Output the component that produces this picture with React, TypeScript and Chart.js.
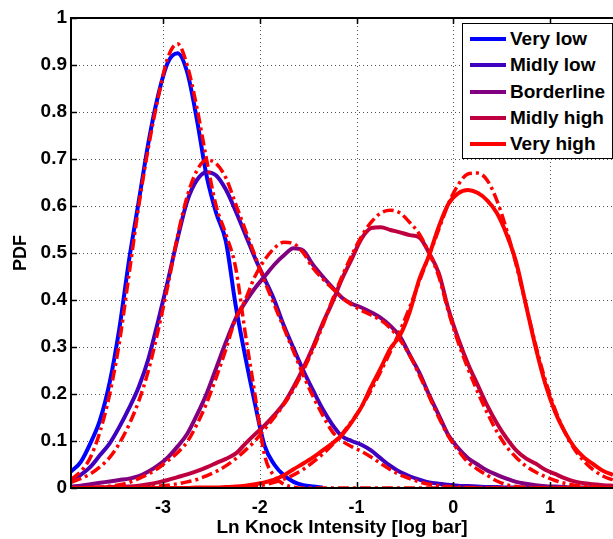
import { useEffect, useRef } from "react";
import { Chart, registerables } from "chart.js";

Chart.register(...registerables);

const FONT = '"Liberation Sans", Arial, Helvetica, sans-serif';

// x grid (Ln Knock Intensity [log bar])
const X_VALUES = [
  -3.95, -3.85, -3.75, -3.65, -3.55, -3.45, -3.35, -3.25, -3.15, -3.05,
  -2.95, -2.85, -2.75, -2.65, -2.55, -2.45, -2.35, -2.25, -2.15, -2.05,
  -1.95, -1.85, -1.75, -1.65, -1.55, -1.45, -1.35, -1.25, -1.15, -1.05,
  -0.95, -0.85, -0.75, -0.65, -0.55, -0.45, -0.35, -0.25, -0.15, -0.05,
  0.05, 0.15, 0.25, 0.35, 0.45, 0.55, 0.65, 0.75, 0.85, 0.95,
  1.05, 1.15, 1.25, 1.35, 1.45, 1.55, 1.65,
];
const X_TICKS = [-3, -2, -1, 0, 1];

const SERIES_NAMES = ["Very low", "Midly low", "Borderline", "Midly high", "Very high"];
const SERIES_COLORS = ["#0000ff", "#4000bf", "#800080", "#bf0040", "#ff0000"];
const FIT_COLOR = "#ff0000";

// Solid curves (estimated PDFs)
const VERY_LOW = [
  0.035, 0.055, 0.095, 0.145, 0.225, 0.34, 0.485, 0.61, 0.735, 0.835,
  0.905, 0.925, 0.885, 0.785, 0.665, 0.585, 0.525, 0.39, 0.28, 0.18,
  0.09, 0.05, 0.027, 0.013, 0.006, 0.003, 0.001,
];
const MIDLY_LOW = [
  0.015, 0.028, 0.045, 0.07, 0.095, 0.13, 0.17, 0.215, 0.275, 0.355,
  0.44, 0.53, 0.61, 0.655, 0.672, 0.665, 0.635, 0.59, 0.54, 0.49,
  0.445, 0.4, 0.345, 0.297, 0.25, 0.208, 0.168, 0.135, 0.11, 0.1,
  0.092, 0.08, 0.063, 0.047, 0.034, 0.025, 0.018, 0.012, 0.009, 0.007,
  0.005, 0.004, 0.003, 0.002, 0.002, 0.001, 0.001, 0.001, 0.001, 0.001,
  0, 0, 0, 0, 0, 0, 0,
];
const BORDERLINE = [
  0.003, 0.005, 0.008, 0.011, 0.014, 0.017, 0.02, 0.025, 0.035, 0.048,
  0.065, 0.088, 0.115, 0.155, 0.2, 0.255, 0.31, 0.36, 0.395, 0.425,
  0.45, 0.475, 0.495, 0.51, 0.505, 0.475, 0.45, 0.427, 0.405, 0.392,
  0.384, 0.374, 0.362, 0.345, 0.322, 0.283, 0.245, 0.198, 0.155, 0.112,
  0.085, 0.064, 0.05, 0.037, 0.028, 0.02, 0.013, 0.009, 0.006, 0.004,
  0.003, 0.002, 0.001, 0.001, 0, 0, 0,
];
const MIDLY_HIGH = [
  0, 0, 0.001, 0.001, 0.002, 0.002, 0.003, 0.005, 0.008, 0.012,
  0.017, 0.023, 0.029, 0.036, 0.044, 0.053, 0.062, 0.073, 0.094, 0.114,
  0.133, 0.155, 0.18, 0.215, 0.255, 0.3, 0.35, 0.395, 0.445, 0.487,
  0.53, 0.553, 0.555, 0.549, 0.544, 0.538, 0.533, 0.5, 0.457, 0.38,
  0.318, 0.265, 0.22, 0.176, 0.138, 0.106, 0.08, 0.063, 0.052, 0.039,
  0.03, 0.021, 0.014, 0.01, 0.008, 0.006, 0.005,
];
const VERY_HIGH = [
  0, 0, 0, 0, 0, 0, 0, 0, 0, 0,
  0, 0, 0, 0.001, 0.001, 0.001, 0.002, 0.003, 0.005, 0.008,
  0.012, 0.018, 0.027, 0.04, 0.052, 0.065, 0.08, 0.095, 0.113, 0.14,
  0.172, 0.215, 0.255, 0.297, 0.325, 0.375, 0.445, 0.495, 0.556, 0.605,
  0.627, 0.634, 0.628, 0.612, 0.585, 0.54, 0.48, 0.39, 0.3, 0.222,
  0.163, 0.12, 0.087, 0.065, 0.05, 0.036, 0.028,
];

// Dash-dot fitted curves
const FIT_VERY_LOW = [
  0.018, 0.035, 0.065, 0.12, 0.2, 0.31, 0.455, 0.6, 0.725, 0.83,
  0.915, 0.945, 0.9, 0.81, 0.7, 0.6, 0.54, 0.47, 0.33, 0.2,
  0.07, 0.025, 0.008, 0.002, 0, 0, 0, 0, 0, 0,
  0, 0, 0, 0, 0, 0, 0, 0, 0, 0,
  0, 0, 0, 0, 0, 0, 0, 0, 0, 0,
  0, 0, 0, 0, 0, 0, 0,
];
const FIT_MIDLY_LOW = [
  0.012, 0.02, 0.03, 0.045, 0.065, 0.095, 0.135, 0.185, 0.25, 0.335,
  0.43, 0.535, 0.62, 0.675, 0.698, 0.69, 0.66, 0.605, 0.55, 0.495,
  0.44, 0.39, 0.34, 0.29, 0.24, 0.195, 0.155, 0.12, 0.1, 0.088,
  0.078, 0.066, 0.052, 0.039, 0.028, 0.02, 0.013, 0.008, 0.005, 0.003,
  0.002, 0.001, 0, 0, 0, 0, 0, 0, 0, 0,
  0, 0, 0, 0, 0, 0, 0,
];
const FIT_BORDERLINE = [
  0, 0, 0.001, 0.002, 0.004, 0.007, 0.012, 0.02, 0.03, 0.042,
  0.058, 0.075, 0.098, 0.135, 0.18, 0.235, 0.295, 0.36, 0.4, 0.45,
  0.485, 0.51, 0.523, 0.52, 0.5, 0.468, 0.445, 0.425, 0.405, 0.39,
  0.378, 0.368, 0.357, 0.34, 0.315, 0.282, 0.24, 0.195, 0.15, 0.11,
  0.08, 0.055, 0.04, 0.027, 0.015, 0.007, 0.003, 0.001, 0, 0,
  0, 0, 0, 0, 0, 0, 0,
];
const FIT_MIDLY_HIGH = [
  0, 0, 0, 0, 0, 0, 0, 0.001, 0.002, 0.004,
  0.006, 0.009, 0.013, 0.018, 0.026, 0.035, 0.047, 0.062, 0.08, 0.1,
  0.125, 0.15, 0.178, 0.21, 0.25, 0.295, 0.345, 0.4, 0.45, 0.495,
  0.535, 0.565, 0.585, 0.591, 0.585, 0.565, 0.54, 0.5, 0.45, 0.375,
  0.31, 0.255, 0.205, 0.16, 0.12, 0.088, 0.065, 0.047, 0.034, 0.024,
  0.016, 0.01, 0.006, 0.004, 0.002, 0.001, 0.001,
];
const FIT_VERY_HIGH = [
  0, 0, 0, 0, 0, 0, 0, 0, 0, 0,
  0, 0, 0, 0, 0, 0, 0, 0.001, 0.002, 0.004,
  0.007, 0.012, 0.019, 0.028, 0.04, 0.055, 0.072, 0.092, 0.115, 0.142,
  0.172, 0.208, 0.248, 0.29, 0.335, 0.385, 0.44, 0.495, 0.55, 0.605,
  0.645, 0.668, 0.67, 0.655, 0.612, 0.55, 0.475, 0.39, 0.305, 0.23,
  0.168, 0.12, 0.083, 0.057, 0.038, 0.025, 0.017,
];

const SOLIDS = [VERY_LOW, MIDLY_LOW, BORDERLINE, MIDLY_HIGH, VERY_HIGH];
const FITS = [FIT_VERY_LOW, FIT_MIDLY_LOW, FIT_BORDERLINE, FIT_MIDLY_HIGH, FIT_VERY_HIGH];

function toPoints(ys: number[]) {
  return X_VALUES.map((x, i) => ({ x, y: i < ys.length ? ys[i] : null }));
}

const framePlugin = {
  id: "matlabFrame",
  beforeDatasetsDraw(chart: any) {
    const { ctx, chartArea: a, scales } = chart;
    const xs = scales.x;
    const ys = scales.y;
    ctx.save();
    ctx.strokeStyle = "#555";
    ctx.lineWidth = 1;
    ctx.setLineDash([1, 3]);
    X_TICKS.forEach((v) => {
      const px = Math.round(xs.getPixelForValue(v)) + 0.5;
      ctx.beginPath();
      ctx.moveTo(px, a.top);
      ctx.lineTo(px, a.bottom);
      ctx.stroke();
    });
    ys.ticks.forEach((t: any) => {
      if (t.value <= 0 || t.value >= 1) return;
      const py = Math.round(ys.getPixelForValue(t.value)) + 0.5;
      ctx.beginPath();
      ctx.moveTo(a.left, py);
      ctx.lineTo(a.right, py);
      ctx.stroke();
    });
    ctx.restore();
  },
  afterDatasetsDraw(chart: any) {
    const { ctx, chartArea: a, scales } = chart;
    const xs = scales.x;
    const ys = scales.y;
    ctx.save();
    ctx.strokeStyle = "#000";
    ctx.lineWidth = 2;
    ctx.setLineDash([]);
    ctx.beginPath();
    ctx.moveTo(a.right, a.top);
    ctx.lineTo(a.left, a.top);
    ctx.lineTo(a.left, a.bottom);
    ctx.lineTo(a.right, a.bottom);
    ctx.stroke();
    ctx.lineWidth = 1.5;
    X_TICKS.forEach((v) => {
      const px = Math.round(xs.getPixelForValue(v)) + 0.5;
      ctx.beginPath();
      ctx.moveTo(px, a.bottom);
      ctx.lineTo(px, a.bottom - 6);
      ctx.moveTo(px, a.top);
      ctx.lineTo(px, a.top + 6);
      ctx.stroke();
    });
    ys.ticks.forEach((t: any) => {
      const py = Math.round(ys.getPixelForValue(t.value)) + 0.5;
      ctx.beginPath();
      ctx.moveTo(a.left, py);
      ctx.lineTo(a.left + 6, py);
      ctx.stroke();
    });
    ctx.restore();
  },
};

export default function App() {
  const canvasRef = useRef<HTMLCanvasElement | null>(null);

  useEffect(() => {
    if (!canvasRef.current) return;
    const solidDatasets = SOLIDS.map((ys, i) => ({
      label: SERIES_NAMES[i],
      data: toPoints(ys),
      borderColor: SERIES_COLORS[i],
      backgroundColor: SERIES_COLORS[i],
      borderWidth: 4,
      pointRadius: 0,
      fill: false,
      cubicInterpolationMode: "monotone" as const,
      order: 5 - i,
    }));
    const fitDatasets = FITS.map((ys, i) => ({
      label: SERIES_NAMES[i] + " fit",
      data: toPoints(ys),
      borderColor: FIT_COLOR,
      backgroundColor: FIT_COLOR,
      borderWidth: 3.5,
      borderDash: [11, 4, 3, 4],
      pointRadius: 0,
      fill: false,
      cubicInterpolationMode: "monotone" as const,
      order: 0,
    }));

    const chart = new Chart(canvasRef.current, {
      type: "line",
      data: { datasets: [...fitDatasets, ...solidDatasets] as any },
      options: {
        responsive: false,
        animation: false,
        layout: { padding: { top: 18, right: 0, bottom: 0, left: 0 } },
        plugins: {
          legend: { display: false },
          tooltip: { enabled: false },
        },
        scales: {
          x: {
            type: "linear",
            min: -3.95,
            max: 1.65,
            afterBuildTicks: (scale: any) => {
              scale.ticks = X_TICKS.map((v) => ({ value: v }));
            },
            afterFit: (scale: any) => {
              scale.height = 51;
            },
            grid: { display: false, drawTicks: false },
            border: { display: false },
            ticks: {
              color: "#000",
              padding: 9,
              maxRotation: 0,
              font: { family: FONT, size: 18, weight: "bold" },
              callback: (v: any) => String(v),
            },
            title: {
              display: true,
              text: "Ln Knock Intensity [log bar]",
              color: "#000",
              font: { family: FONT, size: 19, weight: "bold" },
              padding: { top: 0, bottom: 0 },
            },
          },
          y: {
            type: "linear",
            min: 0,
            max: 1,
            afterFit: (scale: any) => {
              scale.width = 71;
            },
            grid: { display: false, drawTicks: false },
            border: { display: false },
            ticks: {
              stepSize: 0.1,
              color: "#000",
              padding: 4,
              font: { family: FONT, size: 19, weight: "bold" },
              callback: (v: any) => String(Number(Number(v).toFixed(1))),
            },
            title: {
              display: true,
              text: "PDF",
              color: "#000",
              font: { family: FONT, size: 18, weight: "bold" },
              padding: { top: 10, bottom: 0 },
            },
          },
        },
      },
      plugins: [framePlugin],
    });
    return () => chart.destroy();
  }, []);

  return (
    <div style={{ position: "fixed", left: 0, top: 0, width: 613, height: 539, background: "#fff" }}>
      <canvas ref={canvasRef} width={613} height={539} style={{ display: "block" }} />
      <div
        style={{
          position: "absolute",
          left: 462,
          top: 23,
          width: 151,
          height: 136,
          boxSizing: "border-box",
          border: "1.5px solid #000",
          background: "#fff",
          paddingTop: 2,
        }}
      >
        {SERIES_NAMES.map((name, i) => (
          <div key={name} style={{ display: "flex", alignItems: "center", height: 26.25 }}>
            <div style={{ marginLeft: 7, width: 36, height: 4, background: SERIES_COLORS[i] }} />
            <span
              style={{
                marginLeft: 4,
                fontFamily: FONT,
                fontWeight: "bold",
                fontSize: 19,
                color: "#000",
                whiteSpace: "nowrap",
                lineHeight: "26px",
              }}
            >
              {name}
            </span>
          </div>
        ))}
      </div>
    </div>
  );
}
